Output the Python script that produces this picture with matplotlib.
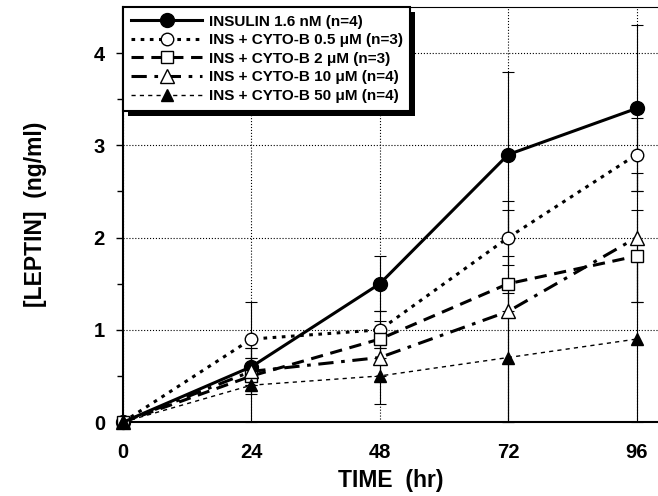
import matplotlib.pyplot as plt
from matplotlib.lines import Line2D
from matplotlib.patches import Rectangle

plt.rcParams['font.family'] = ['Liberation Sans', 'DejaVu Sans']
plt.rcParams['font.weight'] = 'bold'

# data
hours = [0, 24, 48, 72, 96]
labels = ['INSULIN 1.6 nM (n=4)',
          'INS + CYTO-B 0.5 \u03bcM (n=3)',
          'INS + CYTO-B 2 \u03bcM (n=3)',
          'INS + CYTO-B 10 \u03bcM (n=4)',
          'INS + CYTO-B 50 \u03bcM (n=4)']
insulin = [0, 0.6, 1.5, 2.9, 3.4]
cyto_05 = [0, 0.9, 1.0, 2.0, 2.9]
cyto_2 = [0, 0.5, 0.9, 1.5, 1.8]
cyto_10 = [0, 0.55, 0.7, 1.2, 2.0]
cyto_50 = [0, 0.4, 0.5, 0.7, 0.9]
err_insulin = [0, 0.2, 0.3, 0.9, 0.9]
err_05 = [0, 0.4, 0.2, 0.3, 0.4]
err_2 = [0, 0.2, 0.2, 0.3, 0.5]
err_10 = [0, 0.15, 0.2, 1.2, 0.7]
err_50 = [0, 0.4, 0.3, 0.7, 0.9]

series = [insulin, cyto_05, cyto_2, cyto_10, cyto_50]
errors = [err_insulin, err_05, err_2, err_10, err_50]
styles = [
    dict(ls='-', lw=2.2, marker='o', mfc='black', ms=10),
    dict(ls=(0, (1.2, 1.8)), lw=2.2, marker='o', mfc='white', ms=9),
    dict(ls=(0, (4, 2.5)), lw=2.2, marker='s', mfc='white', ms=9),
    dict(ls=(0, (5, 2.5, 1.2, 2.5)), lw=2.2, marker='^', mfc='white', ms=10),
    dict(ls=(0, (3, 3)), lw=1.0, marker='^', mfc='black', ms=9),
]

fig = plt.figure(figsize=(6.58, 4.96), dpi=100)
ax = fig.add_axes([0.187, 0.149, 0.813, 0.837])

handles = []
for vals, err, lab, st in zip(series, errors, labels, styles):
    ax.errorbar(hours, vals, yerr=err, color='black', ecolor='black',
                elinewidth=0.8, capsize=4, capthick=0.8, mec='black',
                clip_on=False, zorder=3, **st)
    handles.append(Line2D([], [], color='black', mec='black', label=lab, **st))

ax.set_xlim(0, 100)
ax.set_ylim(0, 4.5)
ax.set_xticks(hours)
ax.set_yticks([0, 1, 2, 3, 4])
ax.set_yticks([0.5, 1.5, 2.5, 3.5], minor=True)
ax.grid(True, which='major', ls=':', color='black', lw=0.8)
ax.tick_params(axis='both', which='major', labelsize=14.5, length=5, width=1, pad=8)
ax.tick_params(axis='y', which='minor', length=4, width=1)
ax.tick_params(axis='x', length=0, pad=15)
for lab in ax.get_xticklabels() + ax.get_yticklabels():
    lab.set_fontweight('bold')
ax.spines['right'].set_visible(False)
ax.spines['left'].set_linewidth(1.5)
ax.spines['bottom'].set_linewidth(1.5)

ax.set_xlabel('TIME  (hr)', fontsize=16.5, fontweight='bold', labelpad=5)
ax.set_ylabel('[LEPTIN]  (ng/ml)', fontsize=16.5, fontweight='bold', labelpad=34)

leg = ax.legend(handles=handles, loc='upper left', bbox_to_anchor=(0.0, 1.0),
                fontsize=11, handlelength=4.7, frameon=True, fancybox=False,
                borderpad=0.5, labelspacing=0.3, handletextpad=0.4,
                borderaxespad=0.0)
leg.get_frame().set_edgecolor('black')
leg.get_frame().set_linewidth(1.5)
leg.get_frame().set_alpha(1)
leg.set_zorder(10)
for t in leg.get_texts():
    t.set_fontweight('bold')

# solid black drop shadow behind the legend box
fig.canvas.draw()
bb = leg.get_window_extent().transformed(fig.transFigure.inverted())
dx, dy = 5 / 658, 5 / 496
shadow = Rectangle((bb.x0 + dx, bb.y0 - dy), bb.width, bb.height,
                   transform=fig.transFigure, facecolor='black',
                   edgecolor='none', zorder=9)
ax.add_artist(shadow)
shadow.set_clip_on(False)

fig.savefig('out.png', dpi=100)
